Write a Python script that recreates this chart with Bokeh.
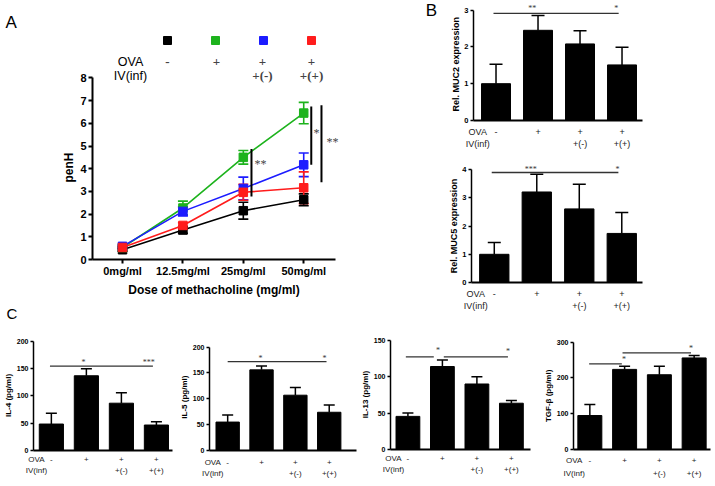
from bokeh.plotting import figure
from bokeh.models import (ColumnDataSource, Whisker, TeeHead, FixedTicker, Label, LabelSet,
                          Legend, LegendItem, Range1d, Title)
from bokeh.layouts import column, row
from bokeh.embed import file_html
from bokeh.resources import INLINE

FONT = "Liberation Sans"

# ------------------------------------------------------------------ data
dose_labels = ["0mg/ml", "12.5mg/ml", "25mg/ml", "50mg/ml"]
ova_row = ["-", "+", "+", "+"]
iv_row = ["", "", "+(-)", "+(+)"]
row_headers = ["OVA", "IV(inf)"]

# Panel A: penH (mean, sem) per group
penh_ctrl = [0.43, 1.30, 2.15, 2.63]
penh_ctrl_sem = [0.06, 0.15, 0.37, 0.26]
penh_ova = [0.53, 2.27, 4.50, 6.45]
penh_ova_sem = [0.05, 0.30, 0.30, 0.47]
penh_ivneg = [0.58, 2.12, 3.13, 4.17]
penh_ivneg_sem = [0.08, 0.20, 0.50, 0.52]
penh_ivpos = [0.53, 1.50, 2.96, 3.16]
penh_ivpos_sem = [0.06, 0.12, 0.35, 0.70]

sigA_x = [2.135, 3.125, 3.294]
sigA_lo = [2.77, 4.17, 3.40]
sigA_hi = [4.87, 6.74, 6.79]
sigA_text = ["**", "*", "**"]
sigA_tx = [2.285, 3.21, 3.477]
sigA_ty = [4.22, 5.57, 5.16]

# Panel B
muc2 = [1.00, 2.45, 2.08, 1.51]
muc2_sem = [0.53, 0.40, 0.36, 0.48]
muc2_sig_lines = [(-0.06, 2.92, 2.91)]
muc2_sig_stars = [(0.86, 3.03, "**"), (2.86, 3.03, "*")]

muc5 = [1.00, 3.21, 2.61, 1.74]
muc5_sem = [0.42, 0.63, 0.87, 0.74]
muc5_sig_lines = [(-0.06, 2.92, 3.90)]
muc5_sig_stars = [(0.86, 4.02, "***"), (2.90, 4.02, "*")]

# Panel C
il4 = [48.5, 137.0, 86.7, 46.7]
il4_sem = [20.0, 13.0, 19.3, 6.0]
il4_sig_lines = [(-0.04, 2.90, 154.5)]
il4_sig_stars = [(0.92, 162.0, "*"), (2.78, 162.0, "***")]

il5 = [55.0, 156.0, 107.0, 74.0]
il5_sem = [13.8, 7.5, 15.0, 13.8]
il5_sig_lines = [(0.0, 2.92, 171.9)]
il5_sig_stars = [(0.97, 178.8, "*"), (2.86, 178.8, "*")]

il13 = [45.5, 114.0, 90.0, 63.6]
il13_sem = [4.5, 9.0, 10.0, 3.7]
il13_sig_lines = [(-0.06, 0.75, 127.2), (1.04, 2.90, 127.2)]
il13_sig_stars = [(0.87, 136.0, "*"), (2.90, 135.0, "*")]

tgfb = [95.0, 224.0, 209.0, 256.0]
tgfb_sem = [31.0, 9.0, 24.0, 7.0]
tgfb_sig_lines = [(-0.02, 0.92, 239.6), (0.94, 2.91, 270.3)]
tgfb_sig_stars = [(0.98, 250.8, "*"), (2.91, 281.5, "*")]

idx = list(range(len(dose_labels)))

# approximate advance widths of the bold sans face (per 1000 em), used to centre axis titles
_BOLD_W = {" ": 278, "(": 333, ")": 333, "-": 333, ".": 278, "/": 278,
           "A": 722, "C": 722, "D": 722, "F": 611, "G": 778, "H": 722, "I": 278, "L": 611,
           "M": 833, "R": 722, "T": 611, "U": 722,
           "a": 556, "c": 556, "e": 556, "f": 333, "g": 611, "h": 611, "i": 278, "l": 278,
           "m": 889, "n": 611, "o": 611, "p": 611, "r": 389, "s": 556, "t": 333, "x": 556,
           "β": 611}


def text_w(s, size_px):
    return sum(_BOLD_W.get(c, 556) for c in s) * size_px / 1000.0


def style_axis(ax, fs, lw=2.0, tick_out=4, standoff=2, bold=True):
    ax.axis_line_width = lw
    ax.axis_line_color = "black"
    ax.major_tick_line_width = lw
    ax.major_tick_line_color = "black"
    ax.major_tick_out = tick_out
    ax.major_tick_in = 0
    ax.minor_tick_out = 0
    ax.minor_tick_in = 0
    ax.major_label_text_font = FONT
    ax.major_label_text_font_size = fs
    ax.major_label_text_font_style = "bold" if bold else "normal"
    ax.major_label_text_color = "black"
    ax.major_label_standoff = standoff


def base_fig(width, height, borders, xr, yr):
    bl, br, bt, bb = borders
    p = figure(width=width, height=height, x_range=Range1d(*xr), y_range=Range1d(*yr),
               output_backend="svg", toolbar_location=None,
               min_border_left=bl, min_border_right=br, min_border_top=bt, min_border_bottom=bb)
    p.outline_line_color = None
    p.grid.visible = False
    p.background_fill_color = "white"
    p.border_fill_color = "white"
    return p


def panel_letter(p, text, offset, size, standoff):
    p.title.text = text
    p.title.align = "left"
    p.title.offset = offset
    p.title.standoff = standoff
    p.title.text_font = FONT
    p.title.text_font_size = size
    p.title.text_font_style = "normal"
    p.title.text_color = "black"


def side_title(p, text, place, size_px, centre_px, standoff):
    # axis title beside an axis; centre_px = wanted centre measured from the frame's
    # left (below) or bottom (left) edge, so it sits centred on the bounded axis part
    p.add_layout(Title(text=text, align="left", offset=centre_px - text_w(text, size_px) / 2,
                       standoff=standoff, text_font=FONT, text_font_size=f"{size_px}px",
                       text_font_style="bold", text_color="black"), place)


# ------------------------------------------------------------------ panel A
A_W, A_H = 357, 298
A_B = (92, 0, 32, 36)
A_PXX, A_PXY = 60.4, 23.0
A_X0 = -0.497
A_XEND = 3.527
fwA = A_W - A_B[0] - A_B[1]
fhA = A_H - A_B[2] - A_B[3]
pA = base_fig(A_W, A_H, A_B, (A_X0, A_X0 + fwA / A_PXX), (0, fhA / A_PXY))
panel_letter(pA, "A", -87, "17px", 2)


def ax_x(off):   # frame-left pixel offset -> data x (panel A)
    return A_X0 + off / A_PXX


def ax_y(off):   # frame-bottom pixel offset -> data y (panel A)
    return off / A_PXY


series = [
    (penh_ctrl, penh_ctrl_sem, "black"),
    (penh_ova, penh_ova_sem, "#1db31d"),
    (penh_ivneg, penh_ivneg_sem, "#1c1cff"),
    (penh_ivpos, penh_ivpos_sem, "#ff1c1c"),
]
marker_renderers = []
for vals, sems, col in series:
    src = ColumnDataSource(dict(x=idx, y=vals,
                                upper=[v + e for v, e in zip(vals, sems)],
                                lower=[v - e for v, e in zip(vals, sems)]))
    pA.add_layout(Whisker(source=src, base="x", upper="upper", lower="lower",
                          line_color=col, line_width=1.6,
                          upper_head=TeeHead(size=10, line_color=col, line_width=1.6),
                          lower_head=TeeHead(size=10, line_color=col, line_width=1.6)))
    pA.line("x", "y", source=src, line_color=col, line_width=1.6)
    r = pA.scatter("x", "y", source=src, marker="square", size=8.5, fill_color=col, line_color=col)
    marker_renderers.append(r)

pA.segment(x0=sigA_x, x1=sigA_x, y0=sigA_lo, y1=sigA_hi, line_color="black", line_width=2)
pA.add_layout(LabelSet(source=ColumnDataSource(dict(x=sigA_tx, y=sigA_ty, t=sigA_text)),
                       x="x", y="y", text="t", text_font=FONT, text_font_size="12px",
                       text_color="#444444", text_align="center", text_baseline="middle"))

xa = pA.xaxis[0]
style_axis(xa, "11px", lw=2, tick_out=4, standoff=1)
xa.ticker = FixedTicker(ticks=idx)
xa.major_label_overrides = {i: lab for i, lab in zip(idx, dose_labels)}
xa.bounds = (A_X0, A_XEND)
side_title(pA, "Dose of methacholine (mg/ml)", "below", 12,
           ((A_X0 + A_XEND) / 2 - A_X0) * A_PXX, 3)

ya = pA.yaxis[0]
style_axis(ya, "11px", lw=2, tick_out=4, standoff=2)
ya.ticker = FixedTicker(ticks=list(range(0, 9)))
ya.bounds = (0, 8)
side_title(pA, "penH", "left", 12, 4 * A_PXY, 4)

# legend keys (coloured squares) and treatment rows
leg_cols = [75, 124, 170, 219]          # frame-left pixel offsets of legend columns
leg = Legend(items=[LegendItem(label="", renderers=[r]) for r in marker_renderers],
             orientation="horizontal", location=(65, 209),
             glyph_width=20, glyph_height=20, label_width=0, label_standoff=0,
             spacing=28, padding=0, margin=0, border_line_color=None,
             background_fill_alpha=0, label_text_font_size="1px")
pA.add_layout(leg)

hdr_x = ax_x(38)
for txt, yoff in zip(row_headers, (200, 186)):
    pA.add_layout(Label(x=hdr_x, y=ax_y(yoff), text=txt, text_font=FONT, text_font_size="12.5px",
                        text_align="center", text_baseline="middle", text_color="black"))
col_x = [ax_x(o) for o in leg_cols]
for rowvals, yoff in ((ova_row, 200), (iv_row, 186)):
    pA.add_layout(LabelSet(source=ColumnDataSource(dict(x=col_x, y=[ax_y(yoff)] * 4, t=rowvals)),
                           x="x", y="y", text="t", text_font=FONT, text_font_size="13px",
                           text_font_style="bold", text_align="center", text_baseline="middle"))


# ------------------------------------------------------------------ bar panels
def bar_panel(values, sems, ylabel, yticks, width, height, borders, x0, pxx, pxy,
              head_x, row_standoff, sig_lines, sig_stars, tick_fs, ylab_px, row_fs, star_fs,
              cap, line_h=1.22, xlw=2.0, ylw=1.5):
    bl, br, bt, bb = borders
    fw = width - bl - br
    fh = height - bt - bb
    p = base_fig(width, height, borders, (x0, x0 + fw / pxx), (0, fh / pxy))
    src = ColumnDataSource(dict(x=idx, top=values,
                                upper=[v + e for v, e in zip(values, sems)]))
    p.add_layout(Whisker(source=src, base="x", upper="upper", lower="top",
                         line_color="black", line_width=1.5,
                         upper_head=TeeHead(size=cap, line_color="black", line_width=1.5),
                         lower_head=None))
    p.vbar(x="x", top="top", width=0.69, source=src, fill_color="black", line_color="black")

    for (sx0, sx1, sy) in sig_lines:
        p.segment(x0=[sx0], x1=[sx1], y0=[sy], y1=[sy], line_color="#333333", line_width=1.3)
    p.add_layout(LabelSet(source=ColumnDataSource(dict(x=[s[0] for s in sig_stars],
                                                        y=[s[1] for s in sig_stars],
                                                        t=[s[2] for s in sig_stars])),
                          x="x", y="y", text="t", text_font=FONT, text_font_size=star_fs,
                          text_color="#333333", text_align="center", text_baseline="middle"))

    xa = p.xaxis[0]
    style_axis(xa, row_fs, lw=xlw, tick_out=0, standoff=row_standoff, bold=False)
    xa.major_label_text_color = "#222222"
    xa.major_label_text_line_height = line_h
    xa.ticker = FixedTicker(ticks=[head_x] + idx)
    overrides = {head_x: "\n".join(row_headers)}
    for i, a, b in zip(idx, ova_row, iv_row):
        overrides[i] = a + "\n" + (b if b else " ")
    xa.major_label_overrides = overrides

    ya = p.yaxis[0]
    style_axis(ya, tick_fs, lw=ylw, tick_out=3, standoff=2)
    ya.ticker = FixedTicker(ticks=yticks)
    ya.bounds = (0, yticks[-1])
    side_title(p, ylabel, "left", ylab_px, yticks[-1] / 2 * pxy, 2)
    return p


# panel letter B sits in its own narrow, axis-less strip left of the MUC2 chart
pBL = figure(width=90, height=151, x_range=Range1d(0, 90), y_range=Range1d(0, 151),
             x_axis_type=None, y_axis_type=None, output_backend="svg", toolbar_location=None,
             min_border=0)
pBL.outline_line_color = None
pBL.grid.visible = False
pBL.add_layout(Label(x=74, y=138, text="B", text_font=FONT, text_font_size="17px",
                     text_align="center", text_baseline="middle", text_color="black"))

# B1: MUC2
pB1 = bar_panel(muc2, muc2_sem, "Rel. MUC2 expression", [0, 1, 2, 3], 268, 151, (24, 73, 0, 29),
                -0.536, 42.5, 37.43, -0.435, 6, muc2_sig_lines, muc2_sig_stars,
                "7.5px", 9, "9px", "8px", 13)

# B2: MUC5
pB2 = bar_panel(muc5, muc5_sem, "Rel. MUC5 expression", [0, 1, 2, 3, 4], 358, 163, (114, 73, 0, 32),
                -0.536, 42.5, 28.2, -0.435, 6, muc5_sig_lines, muc5_sig_stars,
                "7.5px", 9, "9px", "8px", 13)

# C panels
pC1 = bar_panel(il4, il4_sem, "IL-4 (pg/ml)", [0, 50, 100, 150, 200], 176, 188, (32, 4, 27, 36),
                -0.51, 35.27, 0.55, -0.425, 4, il4_sig_lines, il4_sig_stars,
                "7px", 8, "8px", "8px", 11, line_h=1.25)
panel_letter(pC1, "C", -27, "15px", 9)
pC2 = bar_panel(il5, il5_sem, "IL-5 (pg/ml)", [0, 50, 100, 150, 200], 181, 188, (28, 1, 27, 33),
                -0.537, 35.0, 0.5335, -0.44, 7, il5_sig_lines, il5_sig_stars,
                "7px", 8, "8px", "8px", 11, line_h=1.3)
pC3 = bar_panel(il13, il13_sem, "IL-13 (pg/ml)", [0, 50, 100, 150], 183, 172, (30, 10, 0, 36),
                -0.505, 35.23, 0.7333, -0.42, 4, il13_sig_lines, il13_sig_stars,
                "7px", 8, "8px", "8px", 11, line_h=1.25)
pC4 = bar_panel(tgfb, tgfb_sem, "TGF-β (pg/ml)", [0, 100, 200, 300], 175, 172, (30, 5, 0, 37),
                -0.47, 35.53, 0.3577, -0.45, 6, tgfb_sig_lines, tgfb_sig_stars,
                "7px", 8, "8px", "8px", 11, line_h=1.5)

left = column(pA, row(pC1, pC2))
right = column(row(pBL, pB1), pB2, row(pC3, pC4))
layout = row(left, right)

with open("out.html", "w") as f:
    f.write(file_html(layout, INLINE))
